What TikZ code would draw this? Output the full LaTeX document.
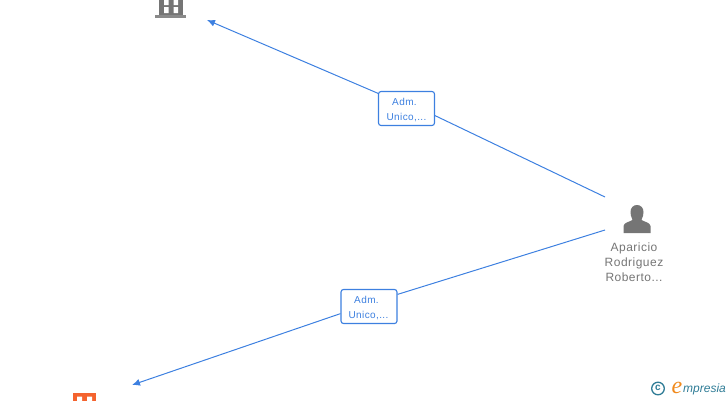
\documentclass[tikz,border=0pt]{standalone}
\usepackage{fontspec}
\setmainfont{Liberation Sans}
\newfontfamily\spacedfont[LetterSpace=4]{Liberation Sans}
\newfontfamily\logoserif{Liberation Serif}
\usepackage{xcolor}
\usetikzlibrary{arrows.meta}

\definecolor{linkblue}{HTML}{3D80E0}
\definecolor{iconorange}{HTML}{F4632E}
\definecolor{icongrey}{HTML}{757575}
\definecolor{logoteal}{HTML}{2F7C96}
\definecolor{logoorange}{HTML}{F08A1D}

\begin{document}
\begin{tikzpicture}[
    x=1pt,
    y=-1pt,
    >={Latex[length=8pt,width=7pt]},
    link/.style={draw=linkblue,line width=1pt},
    rolebox/.style={
        draw=linkblue,
        line width=1.1pt,
        rounded corners=2.5pt,
        fill=white,
        minimum width=56pt,
        minimum height=34pt,
        inner sep=0pt
    },
    roletext/.style={
        align=center,
        text=linkblue,
        inner sep=0pt,
        font=\spacedfont\fontsize{10}{15}\selectfont
    },
    personlabel/.style={
        align=center,
        text=icongrey,
        inner sep=0pt,
        font=\spacedfont\fontsize{12}{15}\selectfont
    }
]

\useasboundingbox (0,0) rectangle (728,400);
\clip (0,0) rectangle (728,400);

% ---------------------------------------------------------
% Role boxes
% ---------------------------------------------------------

\node[rolebox] (roleTop) at (406.5,108.5)
    {};
\node[roletext] (roleTopText) at (406.5,110.5)
    {Adm.\hspace*{4pt}\\Unico,...};

\node[rolebox] (roleBottom) at (369,306.5)
    {};
\node[roletext] (roleBottomText) at (368.5,308.5)
    {Adm.\hspace*{4pt}\\Unico,...};

% ---------------------------------------------------------
% Connector ends
% ---------------------------------------------------------

\coordinate (personTop) at (605,197);
\coordinate (personBottom) at (605,230);
\coordinate (companyTop) at (207,20);
\coordinate (companyBottom) at (132,385);

% ---------------------------------------------------------
% Connectors
% ---------------------------------------------------------

\draw[link]
    (personTop) -- (roleTop.-14);

\draw[link,->]
    (roleTop.152) -- (companyTop);

\draw[link]
    (personBottom) -- (roleBottom.23);

\draw[link,->]
    (roleBottom.194) -- (companyBottom);

% ---------------------------------------------------------
% Company icons
% ---------------------------------------------------------

% Grey building, cut by the top edge
\fill[icongrey]
    (159,-2) rectangle (183,15);
\fill[icongrey!85!white]
    (155,14.5) rectangle (186,17.5);
\fill[white]
    (164,-2) rectangle (168.5,5)
    (173.5,-2) rectangle (178,5)
    (164,7) rectangle (168.5,13)
    (173.5,7) rectangle (178,13);

% Orange building, cut by the bottom edge
\fill[iconorange]
    (73,393) rectangle (96,402);
\fill[white]
    (77,396.5) rectangle (82,402)
    (87,396.5) rectangle (92,402);

% ---------------------------------------------------------
% Person
% ---------------------------------------------------------

\fill[icongrey]
    (623.5,233)
    -- (623.5,226)
    .. controls (624,222.5) and (629,222) .. (632.5,220)
    .. controls (631,217) and (630.5,214) .. (630.5,212)
    .. controls (630.5,207.5) and (633.5,205) .. (637,205)
    .. controls (640.5,205) and (643.5,207.5) .. (643.5,212)
    .. controls (643.5,214) and (643,217) .. (641.5,220)
    .. controls (645,222) and (650,222.5) .. (650.5,226)
    -- (650.5,233)
    -- cycle;

\node[personlabel] (personName) at (634,262)
    {Aparicio\\Rodriguez\\Roberto...};

% ---------------------------------------------------------
% Logo
% ---------------------------------------------------------

\draw[logoteal,line width=1.3pt]
    (658,388.5) circle (6.3);

\node[text=logoteal,inner sep=0pt,font=\fontsize{10}{10}\selectfont\bfseries] (logoC) at (658,388)
    {c};

\node[text=logoorange,inner sep=0pt,font=\logoserif\fontsize{24}{24}\selectfont\itshape] (logoE) at (677,387.5)
    {e};

\node[anchor=west,text=logoteal,inner sep=0pt,font=\fontsize{12}{14}\selectfont\itshape] (logoName) at (683,389.5)
    {mpresia};

\end{tikzpicture}
\end{document}
